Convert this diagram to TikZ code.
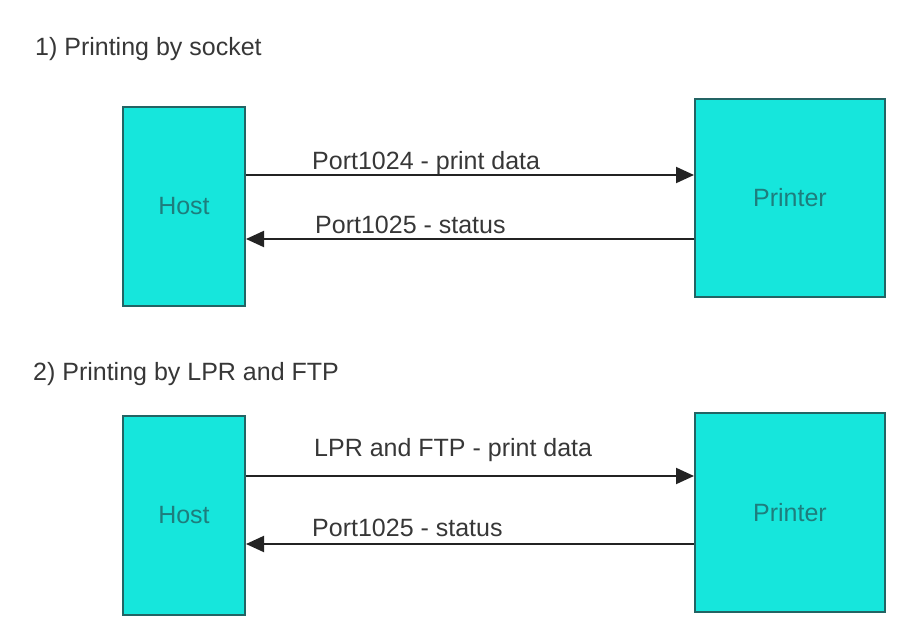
\documentclass[tikz,border=0pt]{standalone}
\usepackage{fontspec}
\setmainfont{Liberation Sans}
\usetikzlibrary{arrows.meta}
\definecolor{boxfill}{RGB}{22,230,220}
\definecolor{boxline}{RGB}{35,100,100}
\definecolor{boxtext}{RGB}{30,125,125}
\definecolor{labtext}{RGB}{55,55,55}
\definecolor{arrline}{RGB}{35,35,35}
\begin{document}
\begin{tikzpicture}[x=1pt,y=-1pt,
  box/.style={draw=boxline,fill=boxfill,line width=2pt,inner sep=0pt,
    text=boxtext,font=\fontsize{25}{29}\selectfont},
  lab/.style={anchor=base west,inner sep=0pt,text=labtext,font=\fontsize{25}{29}\selectfont},
  ttl/.style={anchor=base west,inner sep=0pt,text=labtext,font=\fontsize{25}{29}\selectfont},
  arr/.style={draw=arrline,line width=2pt,-{Triangle[length=18pt,width=16pt]}}]
\useasboundingbox (0,0) rectangle (914,637);
% section 1
\node[ttl] (t1) at (35,55) {1) Printing by socket};
\node[box,minimum width=122pt,minimum height=199pt] (host1) at (184,206.5) {Host};
\node[box,minimum width=190pt,minimum height=198pt] (printer1) at (790,198) {Printer};
\coordinate (a1) at (0,175);
\coordinate (b1) at (0,239);
\draw[arr] (host1.east |- a1) -- (printer1.west |- a1);
\draw[arr] (printer1.west |- b1) -- (host1.east |- b1);
\node[lab] (l1) at (312,169) {Port1024 - print data};
\node[lab] (l2) at (315,233) {Port1025 - status};
% section 2
\node[ttl] (t2) at (33,380) {2) Printing by LPR and FTP};
\node[box,minimum width=122pt,minimum height=199pt] (host2) at (184,515.5) {Host};
\node[box,minimum width=190pt,minimum height=199pt] (printer2) at (790,512.5) {Printer};
\coordinate (a2) at (0,476);
\coordinate (b2) at (0,544);
\draw[arr] (host2.east |- a2) -- (printer2.west |- a2);
\draw[arr] (printer2.west |- b2) -- (host2.east |- b2);
\node[lab] (l3) at (314,456) {LPR and FTP - print data};
\node[lab] (l4) at (312,536) {Port1025 - status};
\end{tikzpicture}
\end{document}
